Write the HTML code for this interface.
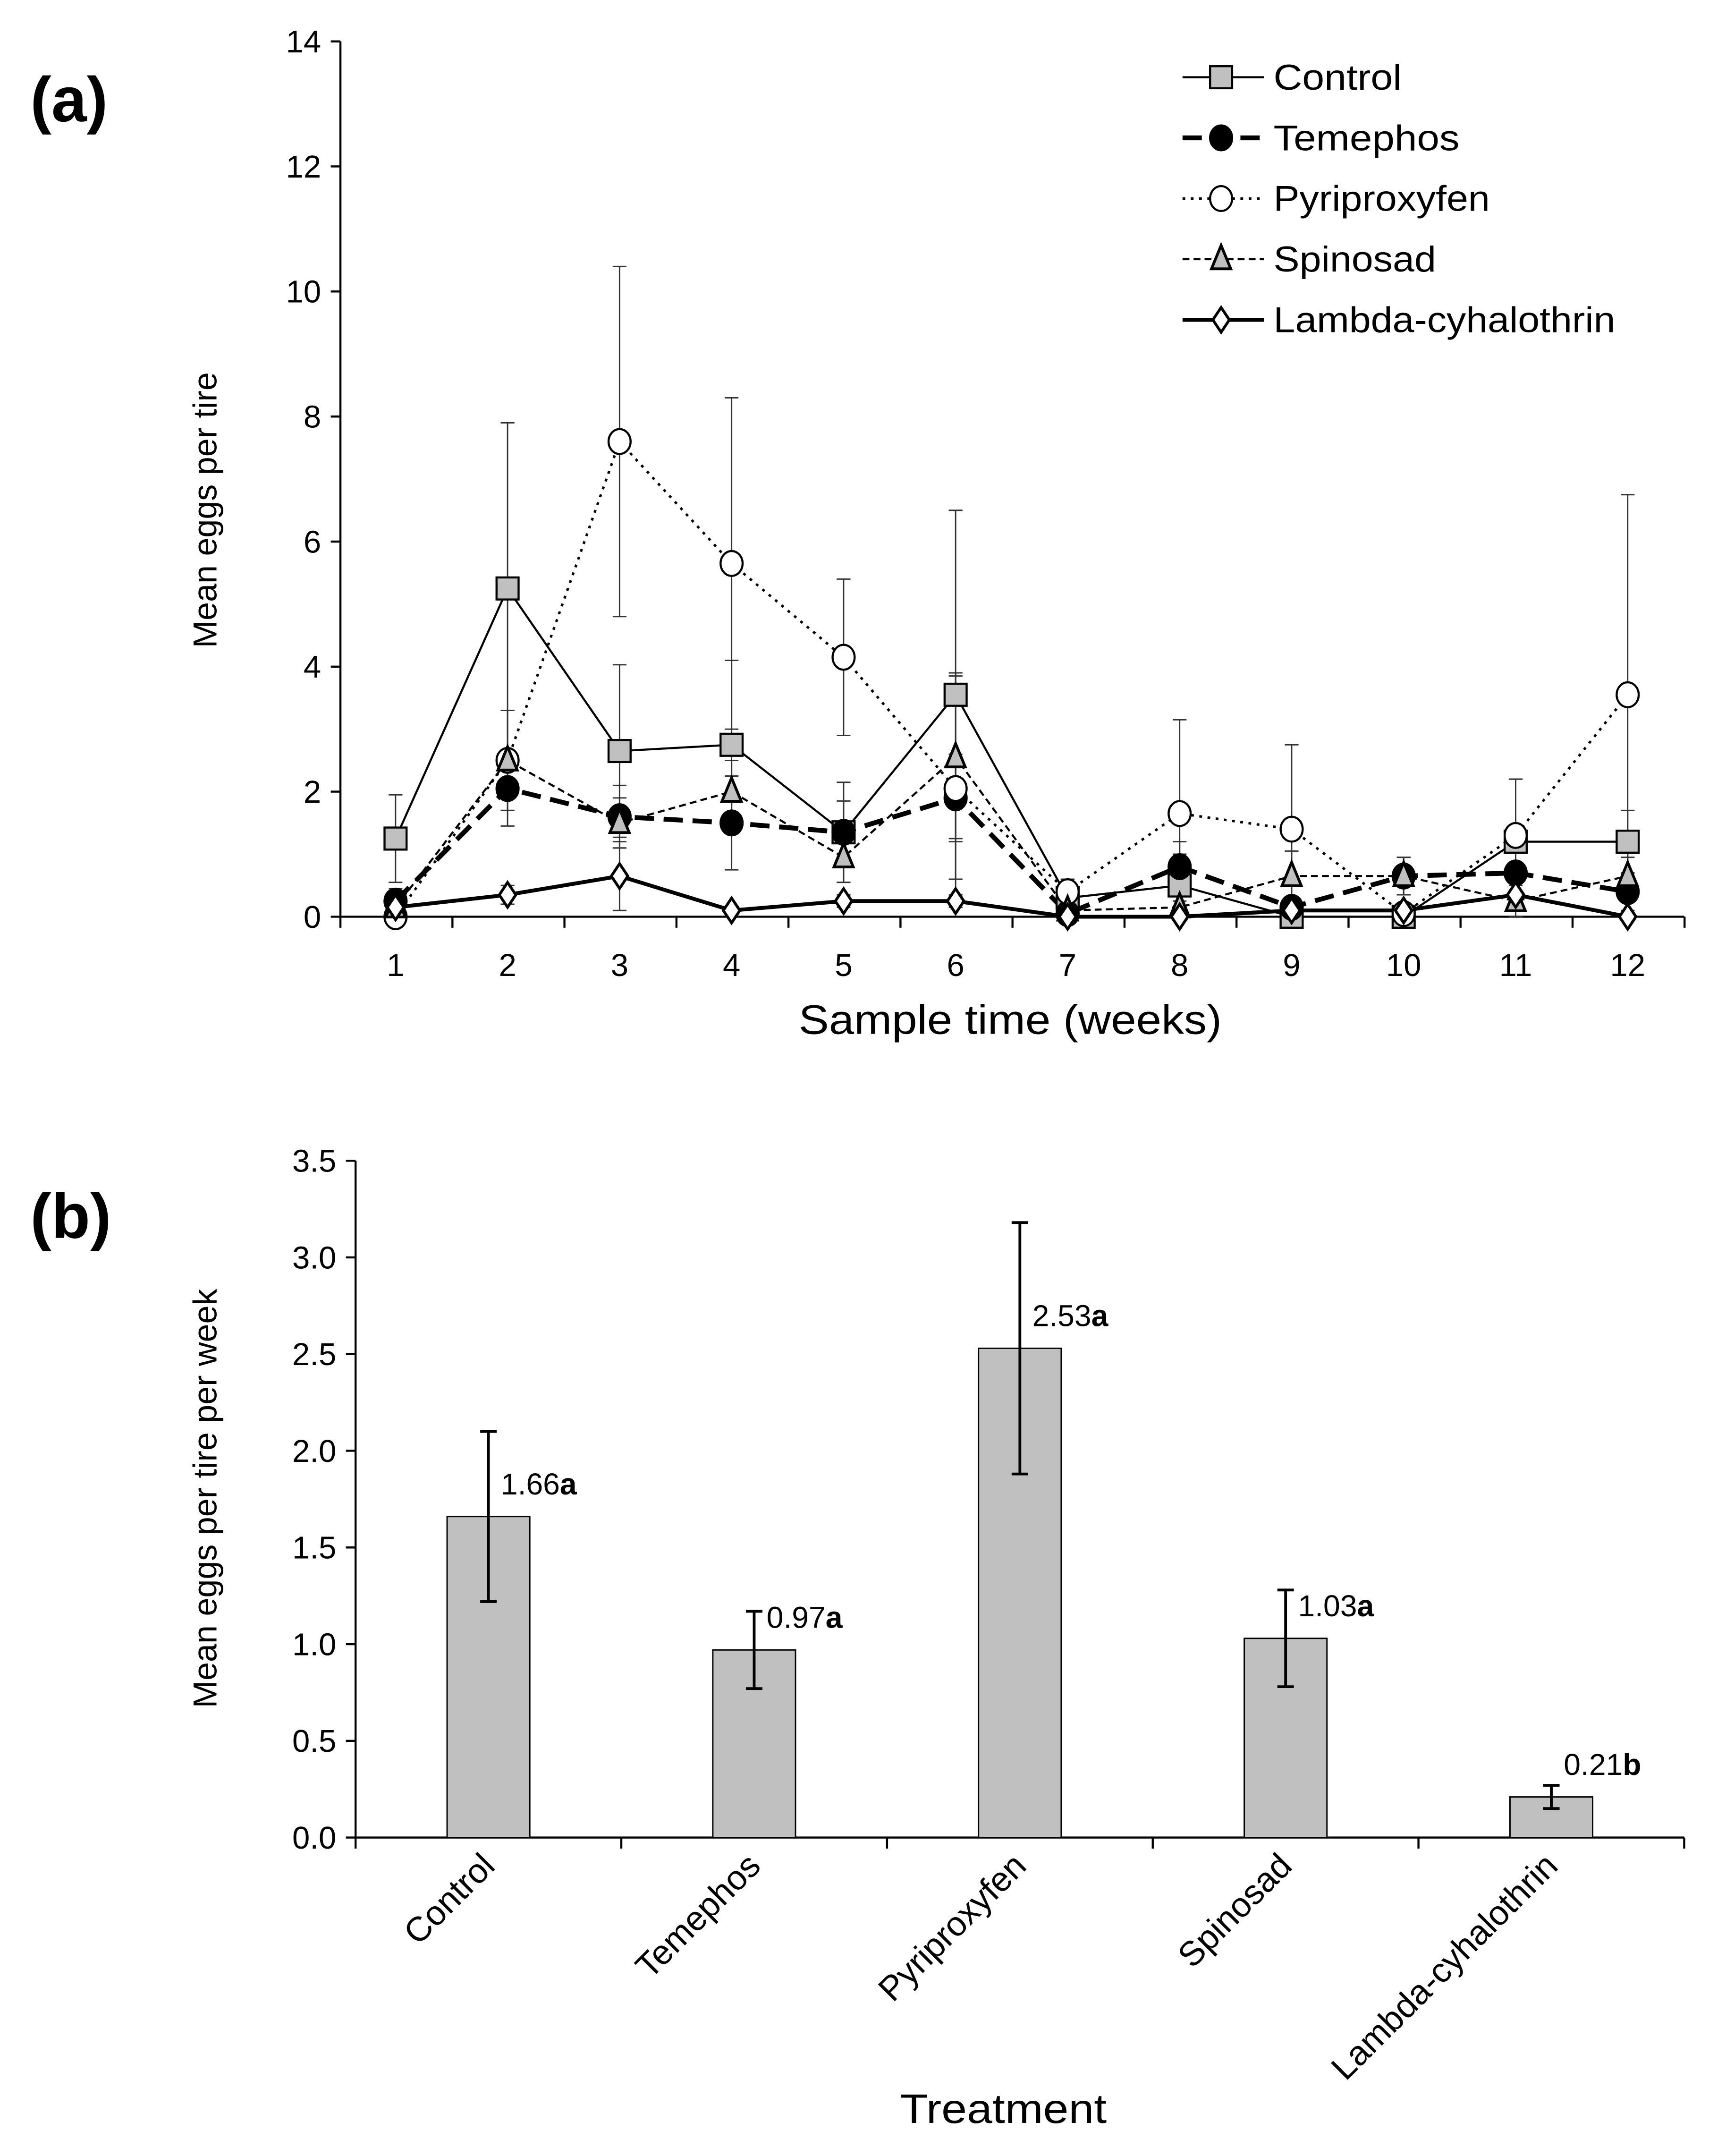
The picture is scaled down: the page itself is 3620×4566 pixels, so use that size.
<!DOCTYPE html>
<html><head><meta charset="utf-8"><style>
html,body{margin:0;padding:0;background:#fff}
svg{display:block}
text{font-family:"Liberation Sans",Arial,sans-serif;fill:#000}
</style></head><body>
<svg id="fig" width="3620" height="4566" viewBox="0 0 1240 1564" xmlns="http://www.w3.org/2000/svg">
<rect width="1240" height="1564" fill="#fff"/>
<text x="22" y="88" font-size="46" font-weight="bold">(a)</text>
<text x="22" y="898" font-size="46" font-weight="bold">(b)</text>
<g id="pa"></g>
<g id="pb"></g>
</svg>
<script>
const weeks = [1,2,3,4,5,6,7,8,9,10,11,12];
const yTicksA = [0,2,4,6,8,10,12,14];
const controlVals = [1.25,5.25,2.65,2.75,1.35,3.55,0.3,0.5,0,0,1.2,1.2];
const controlErr = [0.7,2.65,1.38,1.35,0.8,2.95,0.3,0.5,0,0,1.0,0.5];
const temephosVals = [0.25,2.05,1.6,1.5,1.35,1.9,0.05,0.8,0.15,0.65,0.7,0.4];
const temephosErr = [0.2,0.6,0.5,0.75,0.5,0.7,0.05,0.4,0.15,0.3,0.4,0.3];
const pyriVals = [0,2.5,7.6,5.65,4.15,2.05,0.4,1.65,1.4,0.05,1.3,3.55];
const pyriErr = [0,0.8,2.8,2.65,1.25,1.85,0.2,1.5,1.35,0.05,0.9,3.2];
const spinVals = [0.15,2.5,1.5,2.0,0.95,2.55,0.1,0.15,0.65,0.65,0.25,0.65];
const spinErr = [0.1,0.8,0.4,0.5,0.4,1.3,0.1,0.1,0.4,0.3,0.3,0.3];
const lambdaVals = [0.15,0.35,0.65,0.1,0.25,0.25,0,0,0.1,0.1,0.35,0];
const lambdaErr = [0.1,0.15,0.55,0.05,0.1,0.1,0,0,0.05,0.05,0.15,0];

const treatments = ["Control","Temephos","Pyriproxyfen","Spinosad","Lambda-cyhalothrin"];
const barVals = [1.66,0.97,2.53,1.03,0.21];
const barErr = [0.44,0.2,0.65,0.25,0.06];
const barLetters = ["a","a","a","a","b"];
const yTicksB = [0,0.5,1.0,1.5,2.0,2.5,3.0,3.5];

const NS="http://www.w3.org/2000/svg";
function mk(parent,tag,attrs,text){const e=document.createElementNS(NS,tag);for(const k in attrs)e.setAttribute(k,attrs[k]);if(text!==undefined)e.textContent=text;parent.appendChild(e);return e;}

// ---- Panel A ----
const pa=document.getElementById('pa');
const ax0=247, ax1=1222, ay0=665, ay1=30;
const xA = w => 287 + (w-1)*(1181-287)/11;
const yA = v => ay0 - v*(ay0-ay1)/14;
let el;
el=mk(pa,'line',{x1:ax0,y1:ay0,x2:ax0,y2:ay1,stroke:'#000','stroke-width':1.5});


el=mk(pa,'line',{x1:ax0,y1:ay0,x2:ax1,y2:ay0,stroke:'#000','stroke-width':1.5});


yTicksA.forEach(t=>{
  mk(pa,'line',{x1:ax0-7,y1:yA(t),x2:ax0,y2:yA(t),stroke:'#000','stroke-width':1.5});
  el=mk(pa,'text',{x:ax0-14,y:yA(t)+8,'font-size':23,'text-anchor':'end'},String(t));
  
  
});
for(let i=0;i<=12;i++){const x=ax0+i*(xA(2)-xA(1));mk(pa,'line',{x1:x,y1:ay0,x2:x,y2:ay0+8,stroke:'#000','stroke-width':1.5});}
weeks.forEach(w=>{
  el=mk(pa,'text',{x:xA(w),y:ay0+43,'font-size':23,'text-anchor':'middle'},String(w));
  
  
});
el=mk(pa,'text',{x:733,y:750,'font-size':30,'text-anchor':'middle',textLength:307,lengthAdjust:'spacingAndGlyphs'},'Sample time (weeks)');


el=mk(pa,'text',{x:0,y:0,'font-size':24,'text-anchor':'middle',transform:'translate(157,370) rotate(-90)'},'Mean eggs per tire');



const series=[
 {name:'control',vals:controlVals,err:controlErr,dash:'',w:1.5,m:'square'},
 {name:'temephos',vals:temephosVals,err:temephosErr,dash:'14 7',w:3.5,m:'circlef'},
 {name:'pyriproxyfen',vals:pyriVals,err:pyriErr,dash:'2 4',w:1.8,m:'circle'},
 {name:'spinosad',vals:spinVals,err:spinErr,dash:'5 3',w:1.5,m:'tri'},
 {name:'lambda',vals:lambdaVals,err:lambdaErr,dash:'',w:2.8,m:'diamond'}
];
series.forEach(s=>{
  s.vals.forEach((v,i)=>{
    if(s.err[i]<=0)return;
    const x=xA(weeks[i]),yt=yA(v+s.err[i]),yb=yA(Math.max(0,v-s.err[i]));
    const g=mk(pa,'g',{stroke:'#333','stroke-width':1});
    
    
    mk(g,'line',{x1:x,y1:yt,x2:x,y2:yb});
    mk(g,'line',{x1:x-5,y1:yt,x2:x+5,y2:yt});
    mk(g,'line',{x1:x-5,y1:yb,x2:x+5,y2:yb});
  });
});
function marker(g,type,x,y){
  if(type==='square')return mk(g,'rect',{x:x-8,y:y-8,width:16,height:16,fill:'#c0c0c0',stroke:'#000','stroke-width':1.5});
  if(type==='circlef')return mk(g,'ellipse',{cx:x,cy:y,rx:8,ry:9,fill:'#000',stroke:'#000','stroke-width':1.5});
  if(type==='circle')return mk(g,'ellipse',{cx:x,cy:y,rx:8,ry:9,fill:'#fff',stroke:'#000','stroke-width':1.5});
  if(type==='tri')return mk(g,'polygon',{points:`${x},${y-10} ${x+7},${y+7} ${x-7},${y+7}`,fill:'#c0c0c0',stroke:'#000','stroke-width':2});
  if(type==='diamond')return mk(g,'polygon',{points:`${x},${y-9} ${x+6},${y} ${x},${y+9} ${x-6},${y}`,fill:'#fff',stroke:'#000','stroke-width':2});
}
series.forEach(s=>{
  const pts=s.vals.map((v,i)=>xA(weeks[i])+','+yA(v)).join(' ');
  el=mk(pa,'polyline',{points:pts,fill:'none',stroke:'#000','stroke-width':s.w,'stroke-dasharray':s.dash});
  
  
});
series.forEach(s=>{
  s.vals.forEach((v,i)=>{
    el=marker(pa,s.m,xA(weeks[i]),yA(v));
    
    
  });
});
const legLabels=['Control','Temephos','Pyriproxyfen','Spinosad','Lambda-cyhalothrin'];
const legLens=[93,135,157,118,248];
series.forEach((s,i)=>{
  const y=56+i*44;
  const g=mk(pa,'g',{});
  
  
  mk(g,'line',{x1:858,y1:y,x2:917,y2:y,stroke:'#000','stroke-width':s.w,'stroke-dasharray':s.dash});
  marker(g,s.m,886,y);
  mk(g,'text',{x:924,y:y+9,'font-size':26,textLength:legLens[i],lengthAdjust:'spacingAndGlyphs'},legLabels[i]);
});

// ---- Panel B ----
const pb=document.getElementById('pb');
const bx0=258, bx1=1222, by0=1333, by1=842;
const yB = v => by0 - v*(by0-by1)/3.5;
const slot=(bx1-bx0)/5;
const xB = i => bx0 + slot*(i+0.5);
el=mk(pb,'line',{x1:bx0,y1:by0,x2:bx0,y2:by1,stroke:'#000','stroke-width':1.5});


el=mk(pb,'line',{x1:bx0,y1:by0,x2:bx1,y2:by0,stroke:'#000','stroke-width':1.5});


yTicksB.forEach(t=>{
  mk(pb,'line',{x1:bx0-7,y1:yB(t),x2:bx0,y2:yB(t),stroke:'#000','stroke-width':1.5});
  el=mk(pb,'text',{x:bx0-14,y:yB(t)+8,'font-size':23,'text-anchor':'end'},t.toFixed(1));
  
  
});
for(let i=0;i<=5;i++){const x=bx0+i*slot;mk(pb,'line',{x1:x,y1:by0,x2:x,y2:by0+8,stroke:'#000','stroke-width':1.5});}
barVals.forEach((v,i)=>{
  const x=xB(i);
  el=mk(pb,'rect',{x:x-30,y:yB(v),width:60,height:by0-yB(v),fill:'#c0c0c0',stroke:'#000','stroke-width':1});
  
  
  const yt=yB(v+barErr[i]), yb=yB(v-barErr[i]);
  const g=mk(pb,'g',{stroke:'#000','stroke-width':2});
  
  
  mk(g,'line',{x1:x,y1:yt,x2:x,y2:yb});
  mk(g,'line',{x1:x-6,y1:yt,x2:x+6,y2:yt});
  mk(g,'line',{x1:x-6,y1:yb,x2:x+6,y2:yb});
  const t=mk(pb,'text',{x:x+9,y:yB(v)-16,'font-size':22});
  
  
  mk(t,'tspan',{},v.toFixed(2));
  mk(t,'tspan',{'font-weight':'bold'},barLetters[i]);
  el=mk(pb,'text',{x:0,y:0,'font-size':25,'text-anchor':'end',transform:`translate(${x+6},${by0+22}) rotate(-45)`},treatments[i]);
  
  
});
el=mk(pb,'text',{x:728,y:1540,'font-size':30,'text-anchor':'middle',textLength:150,lengthAdjust:'spacingAndGlyphs'},'Treatment');


el=mk(pb,'text',{x:0,y:0,'font-size':24,'text-anchor':'middle',transform:'translate(157,1087) rotate(-90)'},'Mean eggs per tire per week');


</script>
</body></html>
